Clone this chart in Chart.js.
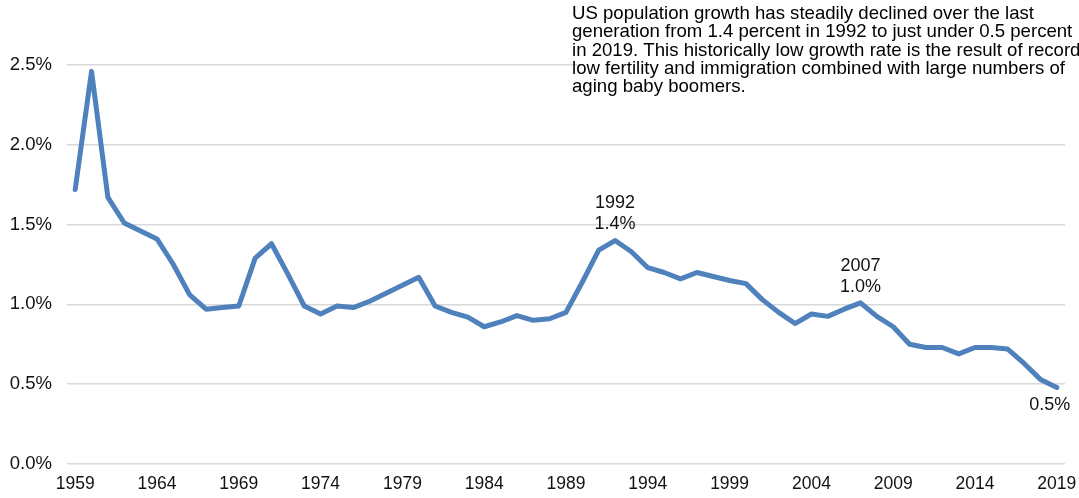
<!DOCTYPE html>
<html>
<head>
<meta charset="utf-8">
<script src="https://cdn.jsdelivr.net/npm/chart.js@4/dist/chart.umd.min.js"></script>
<style>
  html, body { margin: 0; padding: 0; background: #fff; }
  #wrap { width: 1079px; height: 498px; position: relative; }
</style>
</head>
<body>
<div id="wrap"><canvas id="chart"></canvas></div>
<script>
// US population growth rate, annual %
var years = [];
for (var y = 1959; y <= 2019; y++) years.push(String(y));

var growth = [
    1.72, 2.46, 1.67, 1.51, 1.46, 1.41, 1.25, 1.06, 0.97, 0.98,
    0.99, 1.29, 1.38, 1.19, 0.99, 0.94, 0.99, 0.98, 1.02, 1.07,
    1.12, 1.17, 0.99, 0.95, 0.92, 0.86, 0.89, 0.93, 0.90, 0.91,
    0.95, 1.14, 1.34, 1.40, 1.33, 1.23, 1.20, 1.16, 1.20, 1.175,
    1.15, 1.13, 1.03, 0.95, 0.88, 0.94, 0.925, 0.97, 1.01, 0.925,
    0.86, 0.75, 0.73, 0.73, 0.69, 0.73, 0.73, 0.72, 0.63, 0.53,
    0.48
];

var yTicks = [0, 0.5, 1.0, 1.5, 2.0, 2.5];

var callouts = [
    { year: '1992', lines: ['1992', '1.4%'], dy: [-38, -17], dx: 0 },
    { year: '2007', lines: ['2007', '1.0%'], dy: [-37, -16], dx: 0 },
    { year: '2019', lines: ['0.5%'], dy: [18], dx: -7 }
];

var noteLines = [
    'US population growth has steadily declined over the last',
    'generation from 1.4 percent in 1992 to just under 0.5 percent',
    'in 2019. This historically low growth rate is the result of record',
    'low fertility and immigration combined with large numbers of',
    'aging baby boomers.'
];

var FONT = '"Liberation Sans", Arial, sans-serif';

var labelPlugin = {
    id: 'callouts',
    afterDatasetsDraw: function(chart) {
        var ctx = chart.ctx;
        var meta = chart.getDatasetMeta(0);
        ctx.save();
        ctx.font = '18px ' + FONT;
        ctx.fillStyle = '#111';
        ctx.textAlign = 'center';
        ctx.textBaseline = 'middle';
        callouts.forEach(function(c) {
            var pt = meta.data[years.indexOf(c.year)];
            c.lines.forEach(function(txt, i) {
                ctx.fillText(txt, pt.x + c.dx, pt.y + c.dy[i]);
            });
        });
        ctx.restore();
    }
};

var notePlugin = {
    id: 'note',
    afterDraw: function(chart) {
        var ctx = chart.ctx;
        ctx.save();
        ctx.fillStyle = '#fff';
        ctx.fillRect(584, 0, 1079 - 584, 98);
        ctx.font = '18.6px ' + FONT;
        ctx.fillStyle = '#000';
        ctx.textAlign = 'left';
        ctx.textBaseline = 'middle';
        noteLines.forEach(function(txt, i) {
            ctx.fillText(txt, 572, 14 + i * 18.2);
        });
        ctx.restore();
    }
};

new Chart(document.getElementById('chart'), {
    type: 'line',
    data: {
        labels: years,
        datasets: [{
            data: growth,
            borderColor: '#4f81bd',
            borderWidth: 5,
            borderCapStyle: 'round',
            borderJoinStyle: 'round',
            pointRadius: 0,
            tension: 0,
            fill: false
        }]
    },
    options: {
        responsive: true,
        maintainAspectRatio: false,
        animation: false,
        layout: { padding: { top: 65, right: 14, left: 0, bottom: 0 } },
        plugins: {
            legend: { display: false },
            tooltip: { enabled: false }
        },
        scales: {
            x: {
                type: 'category',
                offset: true,
                grid: { display: false, drawTicks: false },
                border: { display: false },
                afterFit: function(scale) {
                    scale.height = 34;
                    scale.paddingLeft = 0;
                    scale.paddingRight = 0;
                },
                ticks: {
                    autoSkip: false,
                    maxRotation: 0,
                    minRotation: 0,
                    padding: 10,
                    color: '#111',
                    font: { family: FONT, size: 17.5 },
                    callback: function(val, idx) {
                        return idx % 5 === 0 ? years[idx] : '';
                    }
                }
            },
            y: {
                min: 0,
                max: 2.5,
                afterFit: function(scale) { scale.width = 67; },
                afterBuildTicks: function(scale) {
                    scale.ticks = yTicks.map(function(v) { return { value: v }; });
                },
                grid: { color: '#d9d9d9', lineWidth: 1.5, drawTicks: false },
                border: { display: false },
                ticks: {
                    padding: 15,
                    color: '#111',
                    font: { family: FONT, size: 18.5 },
                    callback: function(v) { return v.toFixed(1) + '%'; }
                }
            }
        }
    },
    plugins: [labelPlugin, notePlugin]
});
</script>
</body>
</html>
